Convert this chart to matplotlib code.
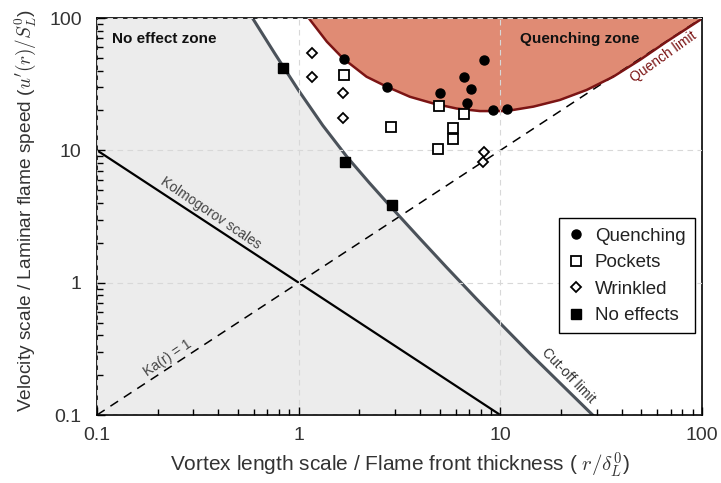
import matplotlib
matplotlib.use("Agg")
import matplotlib.pyplot as plt
import numpy as np

plt.rcParams['font.family'] = ['Liberation Sans', 'DejaVu Sans']
plt.rcParams['mathtext.fontset'] = 'cm'

# ---- data ----
tick_vals = [0.1, 1, 10, 100]
tick_labels = ["0.1", "1", "10", "100"]

# model lines
kolmo_x = [0.1, 10]
kolmo_y = [10, 0.1]
ka_x = [0.1, 100]
ka_y = [0.1, 100]

cutoff_x = [0.590, 0.759, 1.0, 1.318, 1.738, 2.239, 2.838, 3.981, 5.42,
            7.586, 10.33, 14.13, 19.95, 28.7]
cutoff_y = [100, 54.3, 28.3, 15.4, 8.91, 5.69, 3.80, 2.163, 1.303,
            0.759, 0.468, 0.288, 0.172, 0.1]

quench_x = [1.12, 1.14, 1.38, 1.66, 2.17, 2.73, 3.56, 4.65, 6.07, 7.92, 10.7,
            14.6, 19.7, 26.8, 36.3, 49.2, 66.7, 97.7, 100]
quench_y = [100, 96.6, 66.2, 49.5, 36.0, 30.3, 25.4, 22.6, 20.7, 19.8, 19.8,
            21.4, 24.0, 28.6, 36.0, 48.2, 66.2, 96.6, 100]

# measured cases
quench_pts_x = [1.68, 2.75, 5.02, 8.32, 6.62, 7.13, 6.81, 9.16, 10.8]
quench_pts_y = [48.7, 29.9, 27.0, 48.2, 35.8, 29.1, 22.8, 20.2, 20.5]

pocket_x = [1.68, 4.94, 6.61, 2.88, 5.85, 5.85, 4.91]
pocket_y = [37.1, 21.6, 18.7, 15.1, 14.8, 12.2, 10.3]

wrinkled_x = [1.16, 1.16, 1.66, 1.65, 8.32, 8.24]
wrinkled_y = [54.1, 36.0, 27.2, 17.5, 9.66, 8.23]

noeff_x = [0.834, 1.70, 2.89]
noeff_y = [41.7, 8.16, 3.86]

# ---- figure ----
fig = plt.figure(figsize=(7.21, 4.83), dpi=100)
ax = fig.add_axes([97/721, 1-415/483, 605/721, 397/483])
ax.set_xscale('log')
ax.set_yscale('log')
ax.set_xlim(0.1, 100)
ax.set_ylim(0.1, 100)

# gray no-effect region (left/below cut-off limit)
gx = [0.1, 0.1] + cutoff_x
gy = [0.1, 100] + cutoff_y
ax.fill(gx, gy, color='#ececec', lw=0, zorder=0)

# quenching zone
ax.fill_between(quench_x, quench_y, 100, color='#e08b74', lw=0, zorder=0.5)

ax.grid(True, which='major', color='#d8d8d8', ls=(0, (5, 4)), lw=0.8, zorder=1)
ax.set_axisbelow(False)

ax.plot(kolmo_x, kolmo_y, color='black', lw=1.6, zorder=2)
ax.plot(ka_x, ka_y, color='black', lw=1.1, ls=(0, (6, 4.5)), zorder=2)
ax.plot(cutoff_x, cutoff_y, color='#4b525a', lw=2.2, zorder=2)
ax.plot(quench_x, quench_y, color='#7b1414', lw=1.8, zorder=2)

ax.plot(quench_pts_x, quench_pts_y, 'o', color='black', ms=6.5, ls='none',
        label='Quenching', zorder=4)
ax.plot(pocket_x, pocket_y, 's', mfc='white', mec='black', mew=1.3, ms=7,
        ls='none', label='Pockets', zorder=4)
ax.plot(wrinkled_x, wrinkled_y, 'D', mfc='white', mec='black', mew=1.3, ms=5.5,
        ls='none', label='Wrinkled', zorder=4)
ax.plot(noeff_x, noeff_y, 's', color='black', ms=7, ls='none',
        label='No effects', zorder=4)

# annotations
ax.text(0.025, 0.947, 'No effect zone', transform=ax.transAxes, fontsize=11,
        fontweight='bold', va='center', ha='left', color='#111111')
ax.text(0.699, 0.947, 'Quenching zone', transform=ax.transAxes, fontsize=11,
        fontweight='bold', va='center', ha='left', color='#111111')
ax.text(64.5, 50.5, 'Quench limit', fontsize=10, color='#7b1414', rotation=35.5,
        ha='center', va='center', rotation_mode='anchor')
ax.text(0.367, 3.36, 'Kolmogorov scales', fontsize=10, color='#444444',
        rotation=-34, ha='center', va='center', rotation_mode='anchor')
ax.text(0.224, 0.269, 'Ka(r) = 1', fontsize=10, color='#444444', rotation=34,
        ha='center', va='center', rotation_mode='anchor')
ax.text(21.7, 0.198, 'Cut-off limit', fontsize=10, color='#333333', rotation=-46,
        ha='center', va='center', rotation_mode='anchor')

# ticks
ax.set_xticks(tick_vals)
ax.set_xticklabels(tick_labels)
ax.set_yticks(tick_vals)
ax.set_yticklabels(tick_labels)
ax.tick_params(which='both', direction='in', top=False, right=False,
               labelsize=14, labelcolor='#333333')
ax.tick_params(axis='x', which='both', pad=9)
ax.tick_params(axis='y', which='both', pad=11)
ax.tick_params(which='major', length=6, width=1)
ax.tick_params(which='minor', length=4.5, width=1)
for s in ax.spines.values():
    s.set_linewidth(1.2)

ax.set_xlabel(r'Vortex length scale / Flame front thickness ( $r/\delta_L^0$)',
              fontsize=15, color='#333333', labelpad=4)
ax.set_ylabel(r"Velocity scale / Laminar flame speed ($u'(r)/S_L^0$)",
              fontsize=13.8, color='#333333')
ax.yaxis.set_label_coords(-0.098, 0.516)

leg = ax.legend(loc='upper right', bbox_to_anchor=(0.988, 0.496), fontsize=13.5,
                frameon=True, fancybox=False, framealpha=1, edgecolor='black',
                borderpad=0.5, borderaxespad=0, handletextpad=0.6,
                labelspacing=0.5, handlelength=0.8)
leg.get_frame().set_linewidth(1.0)
for t in leg.get_texts():
    t.set_color('#222222')

fig.savefig('out.png', dpi=100)
